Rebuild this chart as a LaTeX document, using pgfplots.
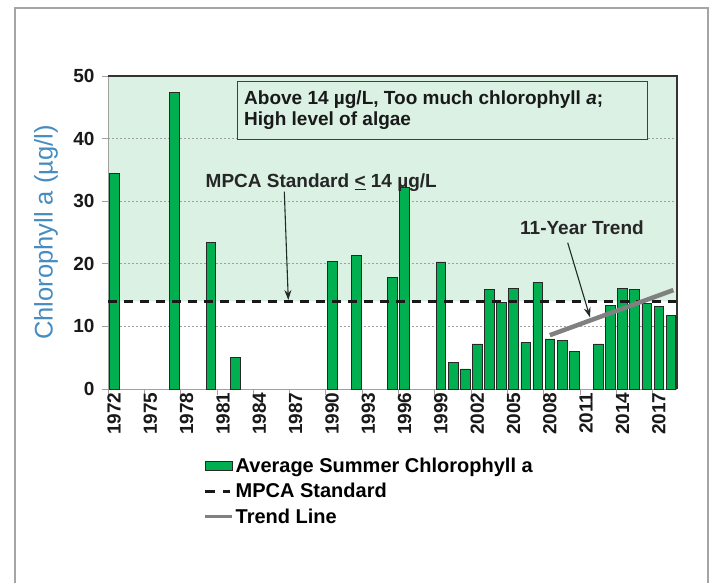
\documentclass[border=0pt]{standalone}
\usepackage{pgfplots}
\pgfplotsset{compat=1.18}
\usepackage{fontspec}
\setmainfont{Liberation Sans}
\usetikzlibrary{arrows.meta}
\definecolor{greenbg}{RGB}{218,241,228}
\definecolor{barc}{RGB}{0,176,80}
\definecolor{barborder}{RGB}{40,40,40}
\definecolor{ylab}{RGB}{70,140,192}
\definecolor{framec}{RGB}{165,165,165}
\definecolor{trendc}{RGB}{128,128,128}
\definecolor{arrowc}{RGB}{30,45,40}
\definecolor{gridc}{RGB}{160,160,160}
\begin{document}
\begin{tikzpicture}[x=1pt,y=1pt]
\begin{axis}[
  set layers,
  at={(108pt,193pt)}, anchor=south west,
  scale only axis, width=569pt, height=313pt,
  xmin=1971.5, xmax=2018.5, ymin=0, ymax=50,
  xtick={1971.5,1974.5,...,2016.5},
  xticklabels={},
  extra x ticks={1972,1975,1978,1981,1984,1987,1990,1993,1996,1999,2002,2005,2008,2011,2014,2017},
  extra x tick labels={1972,1975,1978,1981,1984,1987,1990,1993,1996,1999,2002,2005,2008,2011,2014,2017},
  extra x tick style={major tick length=0pt},
  ytick={0,10,...,50},
  tick align=outside,
  major tick length=6pt,
  tick style={draw=gridc, line width=0.9pt},
  axis x line*=bottom, axis y line*=left,
  axis line style={draw=gridc, line width=1pt},
  ymajorgrids,
  grid style={gridc, dash pattern=on 2pt off 2pt, line width=0.7pt},
  /pgf/number format/assume math mode=true,
  x tick label style={rotate=90, anchor=east, font=\bfseries\fontsize{19}{19}\selectfont, text=black!90},
  y tick label style={font=\bfseries\fontsize{19}{19}\selectfont, xshift=-4pt, text=black!90},
  ylabel={Chlorophyll a (µg/l)},
  ylabel style={at={(axis description cs:-0.109,0.5)}, anchor=center, font=\fontsize{25.5}{25.5}\selectfont, text=ylab},
  legend style={at={(axis description cs:0.1678,-0.213)}, anchor=north west, draw=none, fill=none, inner sep=0pt,
    font=\bfseries\fontsize{20}{20}\selectfont, row sep=5.5pt, cells={anchor=west, inner xsep=1.2pt},
    /tikz/every even column/.append style={column sep=0pt}},
  legend cell align=left,
]
\addplot[on layer=axis background, fill=greenbg, draw=none, forget plot] coordinates {(1971.5,14) (2018.5,14) (2018.5,50) (1971.5,50) (1971.5,14)};
\addplot[ybar, bar width=0.8, bar shift=0pt, fill=barc, draw=barborder, line width=0.6pt,
  legend image code/.code={\draw[fill=barc, draw=barborder, line width=0.6pt] (0pt,-4.5pt) rectangle (27pt,4.5pt);}]
coordinates {
(1972,34.5) (1977,47.4) (1980,23.4) (1982,5.1) (1990,20.4) (1992,21.3) (1995,17.8) (1996,32.2)
(1999,20.3) (2000,4.2) (2001,3.2) (2002,7.2) (2003,15.9) (2004,13.8) (2005,16.1) (2006,7.5)
(2007,17.0) (2008,8.0) (2009,7.7) (2010,6.0) (2012,7.2) (2013,13.4) (2014,16.1) (2015,15.9)
(2016,13.7) (2017,13.2) (2018,11.8)};
\addlegendentry{Average Summer Chlorophyll a}
\addplot[sharp plot, black!90, line width=2.6pt, dash pattern=on 9pt off 7pt,
  legend image code/.code={\draw[black!90, line width=2.6pt, dash pattern=on 10pt off 8pt on 7pt off 10pt] (0pt,0pt) -- (27pt,0pt);}]
coordinates {(1971.5,14) (2018.5,14)};
\addlegendentry{MPCA Standard}
\addplot[sharp plot, trendc, line width=4.5pt,
  legend image code/.code={\draw[trendc, line width=3pt] (0pt,0pt) -- (27pt,0pt);}]
coordinates {(2008,8.6) (2018.2,15.8)};
\addlegendentry{Trend Line}
\end{axis}
\draw[black!80, line width=1.2pt] (108,506) -- (677,506) -- (677,193);
\draw[black!75, line width=1pt, fill=greenbg] (237,442) rectangle (647.5,500);
\node[anchor=base west, inner sep=0pt, align=left, font=\bfseries\fontsize{19}{21}\selectfont, text=black!90] at (244,456.3)
  {Above 14 µg/L, Too much chlorophyll \textit{a};\\High level of algae};
\node[anchor=base west, inner sep=0pt, font=\bfseries\fontsize{19}{19}\selectfont, text=black!85] at (205.5,394)
  {MPCA Standard \underline{<} 14 µg/L};
\node[anchor=base west, inner sep=0pt, font=\bfseries\fontsize{19}{19}\selectfont, text=black!85] at (520,347.7)
  {11-Year Trend};
\draw[arrowc, line width=1.1pt, -{Stealth[length=10pt,width=7pt]}] (284.3,390.3) -- (288.3,282);
\draw[arrowc, line width=1.1pt, -{Stealth[length=10pt,width=7pt]}] (567.7,339.3) -- (590,264.7);
\draw[framec, line width=1.3pt] (15,-5) -- (15,574) -- (708,574) -- (708,-5);
\pgfresetboundingbox
\useasboundingbox (0,0) rectangle (715,582);
\end{tikzpicture}
\end{document}
